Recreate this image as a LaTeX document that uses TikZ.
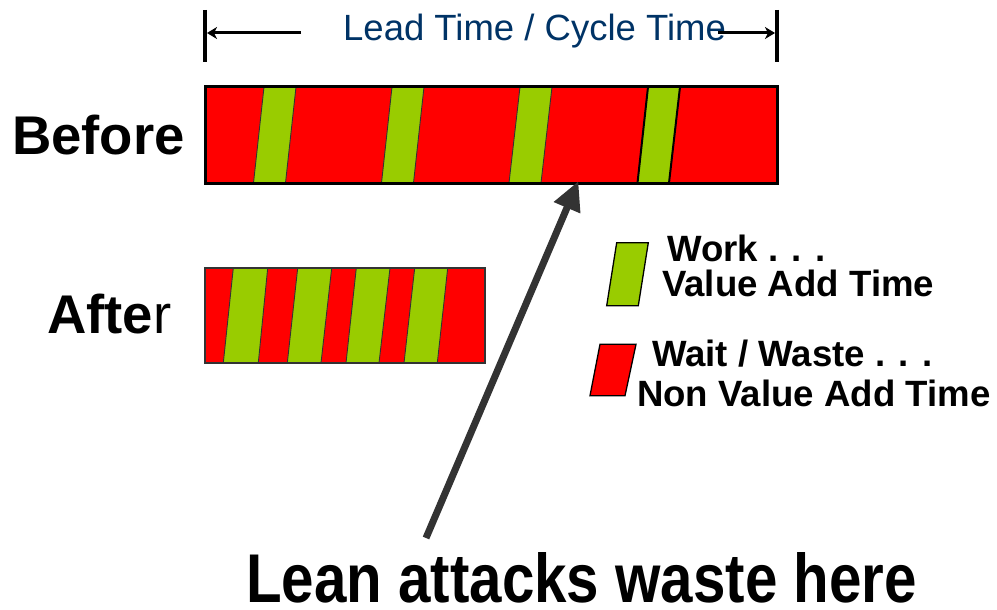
\documentclass[tikz,border=0pt]{standalone}
\usepackage{fontspec}
\setmainfont{Liberation Sans}
\usetikzlibrary{arrows.meta}
\definecolor{wastered}{RGB}{255,0,0}
\definecolor{workgreen}{RGB}{153,204,0}
\definecolor{titleblue}{RGB}{0,51,102}
\definecolor{arrowgray}{RGB}{51,51,51}
\tikzset{
  lbl/.style={inner sep=0pt, anchor=base west},
  wastebar/.style={fill=wastered},
  workstripe/.style={fill=workgreen, draw=black!80, line width=0.9pt},
  legendbox/.style={draw=black, line width=1.3pt},
  dimbar/.style={line width=4pt},
  dimline/.style={line width=3pt, -{Stealth[length=10pt,width=12pt,inset=3pt]}},
  bigarrow/.style={draw=arrowgray, line width=7pt, -{Triangle[length=29pt,width=27pt]}, shorten >=-1pt}
}
\begin{document}
\begin{tikzpicture}[x=1pt,y=-1pt]
\useasboundingbox (0,0) rectangle (997,610);

% dimension line
\node[lbl, text=titleblue, font=\fontsize{36.5}{40}\selectfont] (title) at (343,41) {Lead Time / Cycle Time};
\coordinate (dl1) at (205,10); \coordinate (dl2) at (205,62);
\coordinate (dr1) at (777,10); \coordinate (dr2) at (777,62);
\draw[dimbar] (dl1) -- (dl2);
\draw[dimbar] (dr1) -- (dr2);
\coordinate (al0) at (301,33); \coordinate (al1) at (207,33);
\coordinate (ar0) at (718,33); \coordinate (ar1) at (775,33);
\draw[dimline] (al0) -- (al1);
\draw[dimline] (ar0) -- (ar1);

% Before bar
\node[lbl, font=\fontsize{54.5}{58}\selectfont\bfseries] (before) at (12,154) {Before};
\fill[wastebar] (205,87) rectangle (777,183);
\draw[workstripe] (264,87) -- (296,87) -- (285.5,183) -- (253.5,183) -- cycle;
\draw[workstripe] (392,87) -- (424,87) -- (413.5,183) -- (381.5,183) -- cycle;
\draw[workstripe] (520,87) -- (552,87) -- (541,183) -- (509,183) -- cycle;
\draw[workstripe, draw=black, line width=2pt] (648,87) -- (680,87) -- (669,183) -- (637.5,183) -- cycle;
\draw[line width=3pt] (205,87) rectangle (777,183);
\coordinate (beforebottom) at (578,182);

% After bar
\node[lbl, font=\fontsize{54.5}{58}\selectfont] (after) at (47,333) {\bfseries Afte\mdseries r};
\fill[wastebar] (205,268) rectangle (485,363);
\draw[workstripe] (233.3,268) -- (267.7,268) -- (258.3,363) -- (223.3,363) -- cycle;
\draw[workstripe] (297.7,268) -- (331.7,268) -- (321,363) -- (287.3,363) -- cycle;
\draw[workstripe] (356.3,268) -- (390,268) -- (379,363) -- (346,363) -- cycle;
\draw[workstripe] (414.7,268) -- (447.7,268) -- (437.3,363) -- (404,363) -- cycle;
\draw[draw=black!80, line width=1.5pt] (205,268) rectangle (485,363);

% Legend
\filldraw[legendbox, fill=workgreen] (616.7,242.7) -- (648.3,242.7) -- (638.3,305.7) -- (606.7,305.7) -- cycle;
\filldraw[legendbox, fill=wastered] (600,344.3) -- (636,344.3) -- (625,395.7) -- (590,395.7) -- cycle;
\node[lbl, font=\fontsize{36.6}{40}\selectfont\bfseries] (work) at (667,261) {Work . . .};
\node[lbl, font=\fontsize{36.6}{40}\selectfont\bfseries] (vat) at (662,296) {Value Add Time};
\node[lbl, font=\fontsize{36.6}{40}\selectfont\bfseries] (wait) at (652,366) {Wait / Waste . . .};
\node[lbl, font=\fontsize{36.6}{40}\selectfont\bfseries] (nvat) at (637,406) {Non Value Add Time};

% Bottom text and arrow
\node[lbl, text depth=0pt, font=\fontsize{69}{74}\selectfont\bfseries] (lean) at (246,602) {\scalebox{0.845}[1]{Lean attacks waste here}};
\coordinate (tail) at (426,538);
\draw[bigarrow] (tail) -- (beforebottom);
\end{tikzpicture}
\end{document}
